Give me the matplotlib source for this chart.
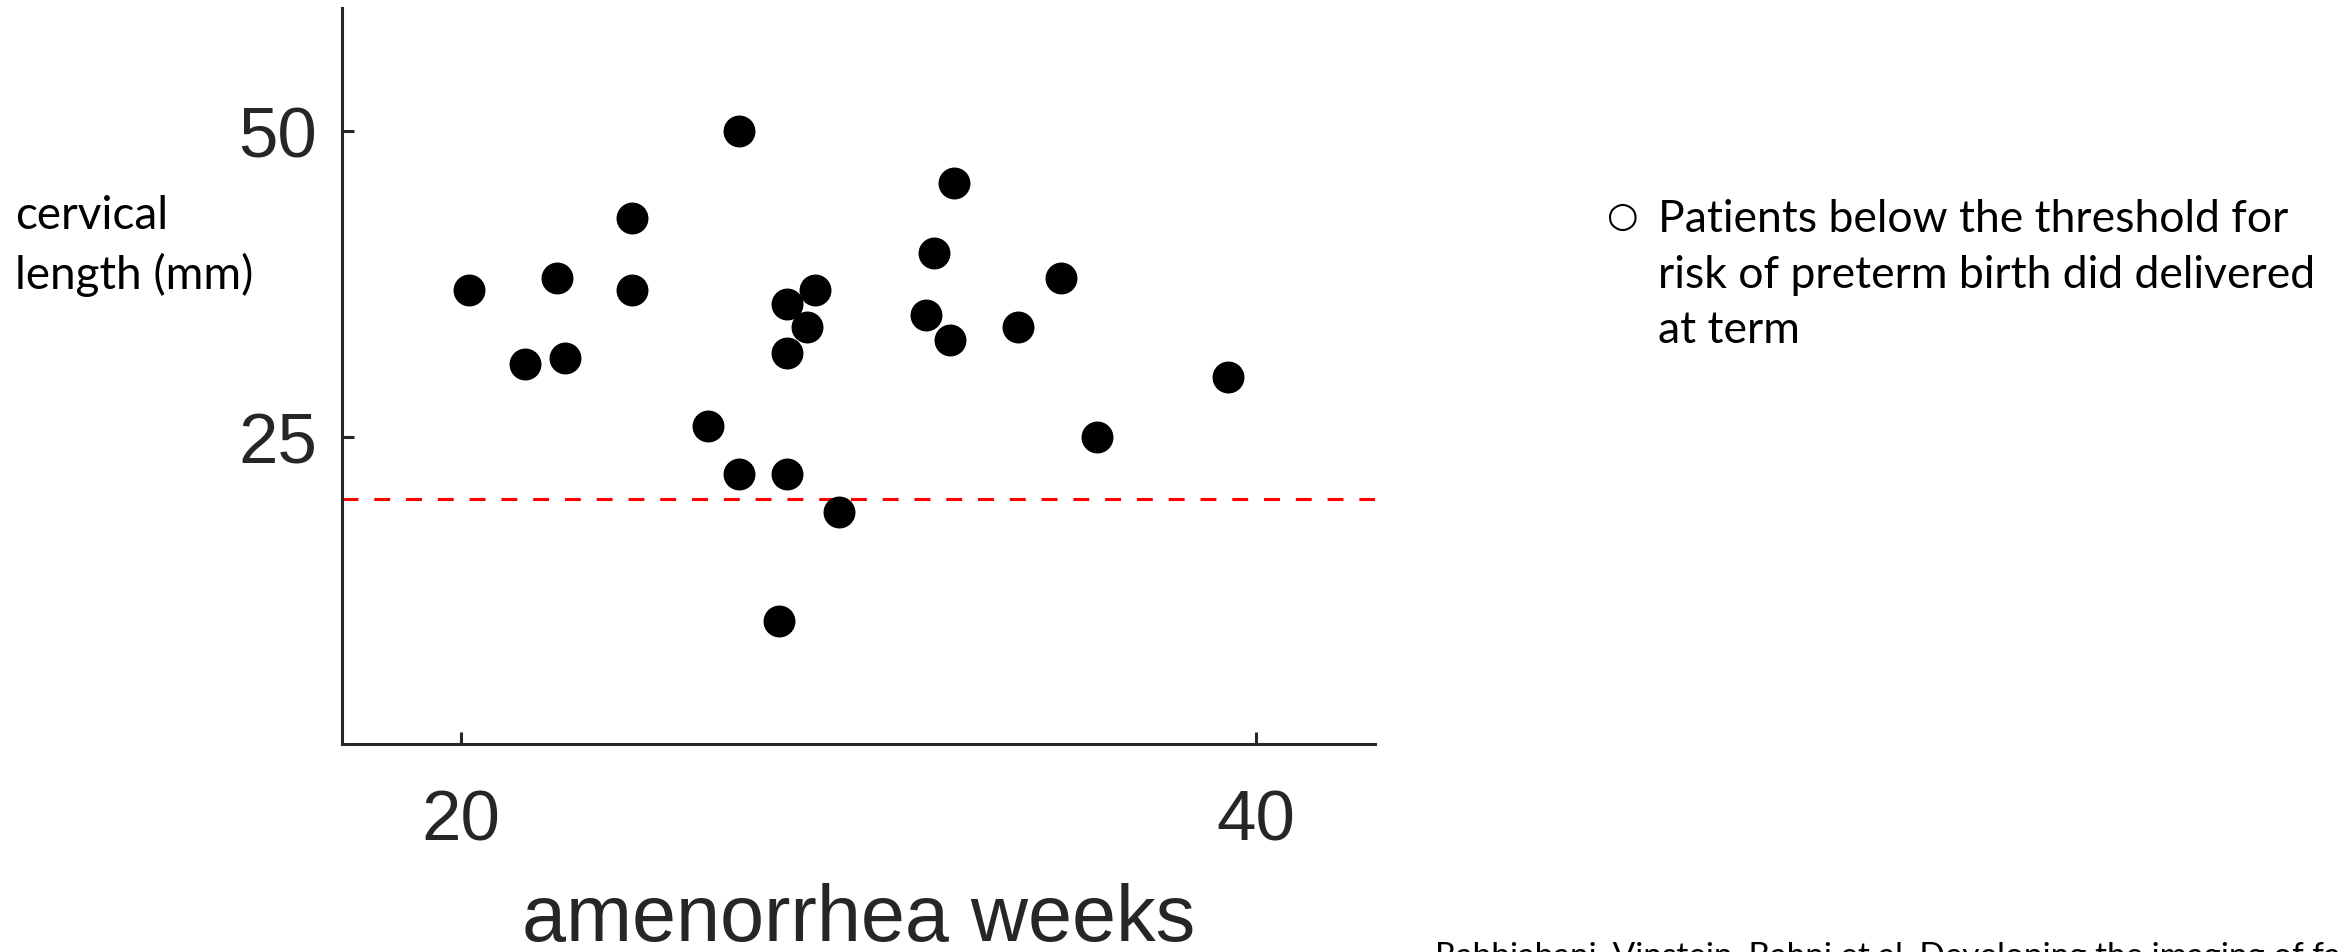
import matplotlib
matplotlib.use("Agg")
import matplotlib.pyplot as plt

# Gestational age (amenorrhea weeks) and cervical length (mm) per patient
weeks = [20.2, 21.6, 22.4, 22.6, 24.3, 24.3, 26.2, 27.0, 27.0, 28.0, 28.2, 28.2,
         28.2, 28.7, 28.9, 29.5, 31.7, 31.9, 32.3, 32.4, 34.0, 35.1, 36.0, 39.3]
cervical_mm = [37.0, 31.0, 38.0, 31.5, 42.9, 37.0, 25.9, 50.0, 22.0, 10.0, 35.9, 31.9,
               22.0, 34.0, 37.0, 18.9, 35.0, 40.0, 32.9, 45.7, 34.0, 38.0, 25.0, 29.9]
threshold_mm = 20
x_ticks = [20, 40]
y_ticks = [25, 50]

AX_COLOR = "#262626"

fig = plt.figure(figsize=(23.43, 9.53), dpi=100)
ax = fig.add_axes([0.146, 0.2183, 0.441, 0.7723])

ax.axhline(threshold_mm, color="red", lw=2.2, ls=(0, (5.2, 5.2)), zorder=1)
ax.plot(weeks, cervical_mm, ls="none", marker="o", ms=23, color="black",
        markeredgewidth=0, zorder=3)

ax.set_xlim(17, 43)
ax.set_ylim(0, 60)
ax.set_xticks(x_ticks)
ax.set_yticks(y_ticks)

for side in ("top", "right"):
    ax.spines[side].set_visible(False)
for side in ("left", "bottom"):
    ax.spines[side].set_linewidth(2.2)
    ax.spines[side].set_color(AX_COLOR)

ax.tick_params(axis="both", direction="in", length=8.6, width=2.2,
               color=AX_COLOR, labelcolor=AX_COLOR, labelsize=51)
ax.tick_params(axis="x", pad=32)
ax.tick_params(axis="y", pad=18)
for lbl in ax.get_xticklabels() + ax.get_yticklabels():
    lbl.set_fontfamily("Liberation Sans")

ax.set_xlabel("amenorrhea weeks", fontsize=57, color=AX_COLOR,
              fontfamily="Liberation Sans")
ax.xaxis.set_label_coords(0.5, -0.238)
ax.xaxis.label.set_va("center")

# y-axis title placed as free text to the left of the axis
fig.text(15 / 2343, 1 - 246 / 953, "cervical\nlength (mm)", fontsize=33,
         fontfamily="Lato", color="black", ha="left", va="center",
         linespacing=1.42)

# bullet note
fig.text(1607 / 2343, 1 - 217 / 953, "\u25CB", fontsize=26,
         fontfamily="DejaVu Sans", color="black", ha="left", va="center")
fig.text(1658 / 2343, 1 - 275 / 953,
         "Patients below the threshold for\nrisk of preterm birth did delivered\nat term",
         fontsize=32, fontfamily="Lato", color="black", ha="left", va="center",
         linespacing=1.43)

# source line along the bottom edge
fig.text(1435 / 2343, 1 - 942 / 953,
         "Rabbiabani, Vinstein, Bahni et al. Developing the imaging of factors in pregnancy",
         fontsize=24, fontfamily="Lato", color="black", ha="left", va="top")

fig.savefig("out.png", dpi=100)
